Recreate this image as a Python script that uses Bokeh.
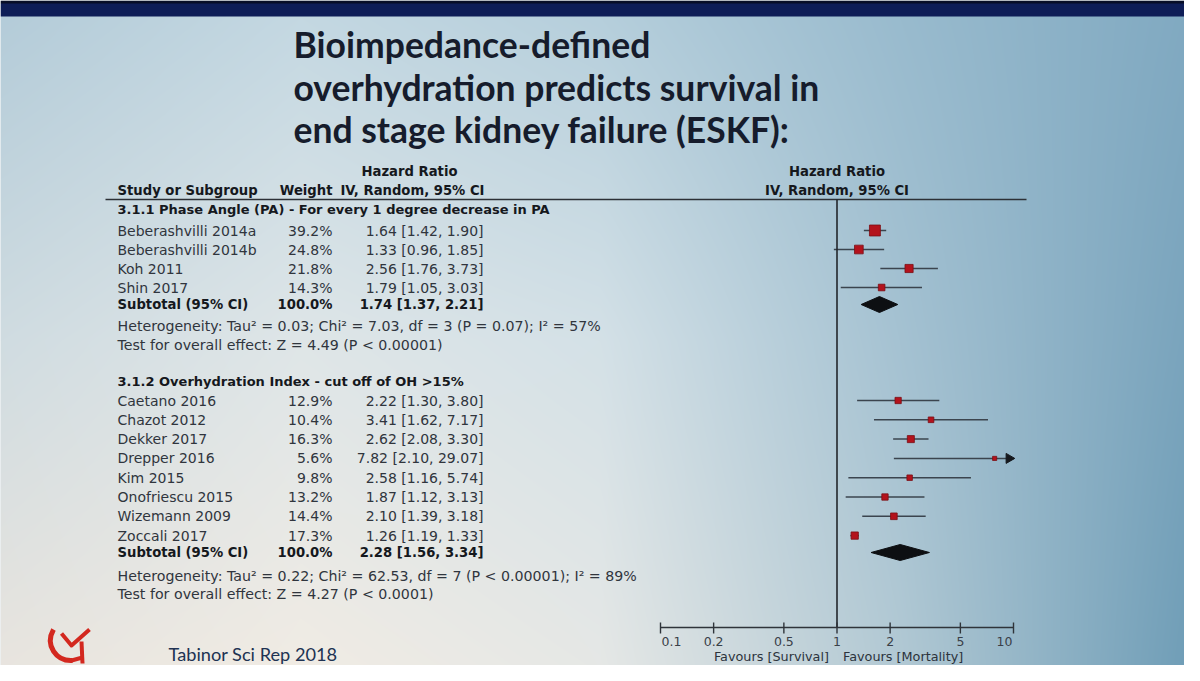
import numpy as np
from bokeh.plotting import figure
from bokeh.models import Range1d, LogScale
from bokeh.core.properties import value
from bokeh.embed import file_html
from bokeh.resources import INLINE

# ---------------- data ----------------
title_lines = ["Bioimpedance-defined",
               "overhydration predicts survival in",
               "end stage kidney failure (ESKF):"]

col_headers = ["Study or Subgroup", "Weight", "IV, Random, 95% CI"]
effect_header = "Hazard Ratio"

group1_title = "3.1.1 Phase Angle (PA) - For every 1 degree decrease in PA"
studies1 = ["Beberashvilli 2014a", "Beberashvilli 2014b", "Koh 2011", "Shin 2017"]
weights1 = [39.2, 24.8, 21.8, 14.3]
hr1 = [1.64, 1.33, 2.56, 1.79]
lo1 = [1.42, 0.96, 1.76, 1.05]
hi1 = [1.90, 1.85, 3.73, 3.03]
subtotal1 = [1.74, 1.37, 2.21]
het1 = "Heterogeneity: Tau\u00b2 = 0.03; Chi\u00b2 = 7.03, df = 3 (P = 0.07); I\u00b2 = 57%"
test1 = "Test for overall effect: Z = 4.49 (P < 0.00001)"

group2_title = "3.1.2 Overhydration Index - cut off of OH >15%"
studies2 = ["Caetano 2016", "Chazot 2012", "Dekker 2017", "Drepper 2016",
            "Kim 2015", "Onofriescu 2015", "Wizemann 2009", "Zoccali 2017"]
weights2 = [12.9, 10.4, 16.3, 5.6, 9.8, 13.2, 14.4, 17.3]
hr2 = [2.22, 3.41, 2.62, 7.82, 2.58, 1.87, 2.10, 1.26]
lo2 = [1.30, 1.62, 2.08, 2.10, 1.16, 1.12, 1.39, 1.19]
hi2 = [3.80, 7.17, 3.30, 29.07, 5.74, 3.13, 3.18, 1.33]
subtotal2 = [2.28, 1.56, 3.34]
het2 = "Heterogeneity: Tau\u00b2 = 0.22; Chi\u00b2 = 62.53, df = 7 (P < 0.00001); I\u00b2 = 89%"
test2 = "Test for overall effect: Z = 4.27 (P < 0.0001)"

subtotal_label = "Subtotal (95% CI)"
subtotal_weight = "100.0%"

axis_ticks = [0.1, 0.2, 0.5, 1, 2, 5, 10]
axis_labels = ["0.1", "0.2", "0.5", "1", "2", "5", "10"]
favours_left = "Favours [Survival]"
favours_right = "Favours [Mortality]"
source_note = "Tabinor Sci Rep 2018"

# ---------------- layout helpers (screen pixel coordinates) ----------------
W, H = 1184, 665
X0, X1, Y0, Y1 = 0, W, 0, H


def Y(yi):
    return H - yi


HR_MIN, HR_MAX = 0.1, 10.0
PX_MIN, PX_MAX = 660.0, 1013.0
decade = (PX_MAX - PX_MIN) / 2.0
log_lo = np.log10(HR_MIN) - (PX_MIN - X0) / decade
log_hi = np.log10(HR_MAX) + (X1 - PX_MAX) / decade

p = figure(width=W, height=H, x_range=Range1d(X0, X1), y_range=Range1d(0, H),
           output_backend="svg", toolbar_location=None, min_border=0)
p.extra_x_ranges = {"hr": Range1d(10 ** log_lo, 10 ** log_hi)}
p.extra_x_scales = {"hr": LogScale()}
p.xaxis.visible = False
p.yaxis.visible = False
p.xgrid.visible = False
p.ygrid.visible = False
p.outline_line_color = None
p.border_fill_color = "#dfe7eb"
p.background_fill_color = "#dfe7eb"

# ---------------- background (photo of projected slide) ----------------
xs = np.linspace(X0, X1, W)
ys = np.linspace(Y0, Y1, H)
cx = [0, 300, 600, 900, 1200]
cy = [16, 340, 673]
hexrows = [["#b4ccd9", "#c4d8e2", "#b6cfdc", "#99bbce", "#80a9c1"],
           ["#d0dce1", "#dfe6e8", "#d4e1e7", "#a5c2d2", "#78a3bc"],
           ["#e9e5df", "#f1ece4", "#e6e8e6", "#b2c9d4", "#6d9cb6"]]
C = np.array([[[int(h[i:i + 2], 16) for i in (1, 3, 5)] for h in row] for row in hexrows], dtype=float)
rowsX = np.stack([np.stack([np.interp(xs, cx, C[r, :, c]) for c in range(3)], -1) for r in range(len(cy))])
cyA = np.array(cy, dtype=float)
idx = np.clip(np.searchsorted(cyA, ys) - 1, 0, len(cy) - 2)
t = np.clip((ys - cyA[idx]) / (cyA[idx + 1] - cyA[idx]), 0, 1)
img = rowsX[idx] * (1 - t)[:, None, None] + rowsX[idx + 1] * t[:, None, None]
img[ys < 16] = np.array([14, 29, 87], dtype=float)
img[ys < 3] = np.array([8, 14, 40], dtype=float)
rgba = np.empty((H, W), dtype=np.uint32)
view = rgba.view(dtype=np.uint8).reshape((H, W, 4))
view[..., 0] = img[..., 0].astype(np.uint8)
view[..., 1] = img[..., 1].astype(np.uint8)
view[..., 2] = img[..., 2].astype(np.uint8)
view[..., 3] = 255
p.image_rgba(image=[np.ascontiguousarray(rgba[::-1])], x=X0, y=0, dw=W, dh=H)

# ---------------- title ----------------
p.text(x=[293] * 3, y=[Y(44), Y(86.5), Y(128.5)], text=title_lines,
       text_font=value("Lato"), text_font_style="bold", text_font_size="35.5px",
       text_color="#161c2c", text_baseline="alphabetic", text_align="left")

# ---------------- table text ----------------
FONT = value("DejaVu Sans")
REG = "14px"
BLD = "13.2px"
TXT = "#30353d"
BTXT = "#15181d"
X_STUDY, X_WEIGHT, X_HR = 117, 332, 483


def txt(x, y, s, align="left", bold=False, size=None, color=None, x_range_name="default", x_offset=0):
    p.text(x=x, y=y, text=s, text_font=FONT,
           text_font_style="bold" if bold else "normal",
           text_font_size=size or (BLD if bold else REG),
           text_color=color or (BTXT if bold else TXT),
           text_align=align, text_baseline="middle",
           x_range_name=x_range_name, x_offset=x_offset)


# headers
txt([409], [Y(171)], [effect_header], align="center", bold=True)
txt([X_STUDY], [Y(190)], [col_headers[0]], bold=True)
txt([X_WEIGHT], [Y(190)], [col_headers[1]], align="right", bold=True)
txt([X_HR + 1], [Y(190)], [col_headers[2]], align="right", bold=True)
txt([1], [Y(171)], [effect_header], align="center", bold=True, x_range_name="hr")
txt([1], [Y(190)], [col_headers[2]], align="center", bold=True, x_range_name="hr")
p.segment(x0=[105], y0=[Y(199)], x1=[1026], y1=[Y(199)], line_color="#2c3036", line_width=1.6)


def fmt_ci(est, lo, hi):
    return f"{est:.2f} [{lo:.2f}, {hi:.2f}]"


def draw_group(title, title_y, studies, weights, hr, lo, hi, sub, het, test, row_y0, step, sub_y, het_y, test_y):
    n = len(studies)
    ry = [row_y0 + i * step for i in range(n)]
    txt([X_STUDY], [Y(title_y)], [title], bold=True, size="13px")
    txt([X_STUDY] * n, [Y(v) for v in ry], studies)
    txt([X_WEIGHT] * n, [Y(v) for v in ry], [f"{w:.1f}%" for w in weights], align="right")
    txt([X_HR] * n, [Y(v) for v in ry], [fmt_ci(e, a, b) for e, a, b in zip(hr, lo, hi)], align="right")
    txt([X_STUDY], [Y(sub_y)], [subtotal_label], bold=True)
    txt([X_WEIGHT], [Y(sub_y)], [subtotal_weight], align="right", bold=True)
    txt([X_HR], [Y(sub_y)], [fmt_ci(*sub)], align="right", bold=True)
    txt([X_STUDY], [Y(het_y)], [het], size="14.2px")
    txt([X_STUDY], [Y(test_y)], [test], size="14.2px")

    # forest marks
    hi_c = [min(b, HR_MAX) for b in hi]
    p.segment(x0=lo, y0=[Y(v) for v in ry], x1=hi_c, y1=[Y(v) for v in ry],
              x_range_name="hr", line_color="#3b444e", line_width=1.5)
    clipped = [i for i, b in enumerate(hi) if b > HR_MAX]
    if clipped:
        p.scatter(x=[HR_MAX * 10 ** (-4.5 / decade)] * len(clipped), y=[Y(ry[i]) for i in clipped],
                  marker="triangle", angle=-np.pi / 2, size=10, fill_color="#15181d",
                  line_color="#15181d", x_range_name="hr")
    p.scatter(x=hr, y=[Y(v) for v in ry], marker="square",
              size=[1.75 * np.sqrt(w) for w in weights],
              fill_color="#b3121c", line_color="#7a0e14", line_width=0.8, x_range_name="hr")
    est, a, b = sub
    yc = Y(sub_y)
    p.patch(x=[a, est, b, est], y=[yc, yc + 8, yc, yc - 8], x_range_name="hr",
            fill_color="#0d0f12", line_color="#0d0f12")


draw_group(group1_title, 209, studies1, weights1, hr1, lo1, hi1, subtotal1, het1, test1,
           230, 19.0, 304, 325, 344)
draw_group(group2_title, 381, studies2, weights2, hr2, lo2, hi2, subtotal2, het2, test2,
           400, 19.3, 552, 575, 593)

# ---------------- reference line and axis ----------------
AX_Y = 627
p.segment(x0=[1], y0=[Y(199)], x1=[1], y1=[Y(AX_Y)], x_range_name="hr",
          line_color="#22262b", line_width=1.6)
p.segment(x0=[axis_ticks[0]], y0=[Y(AX_Y)], x1=[axis_ticks[-1]], y1=[Y(AX_Y)], x_range_name="hr",
          line_color="#2f343a", line_width=1.5)
p.segment(x0=axis_ticks, y0=[Y(AX_Y - 5)] * len(axis_ticks), x1=axis_ticks,
          y1=[Y(AX_Y + 6)] * len(axis_ticks), x_range_name="hr", line_color="#2f343a", line_width=1.4)
TICK_Y = Y(641)
txt([axis_ticks[0]], [TICK_Y], [axis_labels[0]], align="left", size="12.5px", color="#3a4048",
    x_range_name="hr", x_offset=1)
txt(axis_ticks[1:-1], [TICK_Y] * (len(axis_ticks) - 2), axis_labels[1:-1], align="center",
    size="12.5px", color="#3a4048", x_range_name="hr")
txt([axis_ticks[-1]], [TICK_Y], [axis_labels[-1]], align="right", size="12.5px", color="#3a4048",
    x_range_name="hr", x_offset=-1)
txt([1], [Y(656)], [favours_left], align="right", size="12.8px", color="#2c333c",
    x_range_name="hr", x_offset=-8)
txt([1], [Y(656)], [favours_right], align="left", size="12.8px", color="#2c333c",
    x_range_name="hr", x_offset=6)

# ---------------- footer ----------------
p.text(x=[168], y=[Y(653)], text=[source_note], text_font=value("Lato"), text_font_size="18.2px",
       text_color="#203252", text_baseline="middle", text_align="left")
# logo (decorative red ribbon)
RED = "#d3281f"
p.bezier(x0=[53], y0=[Y(629)], x1=[72], y1=[Y(660)], cx0=[44], cy0=[Y(645)], cx1=[56], cy1=[Y(661)],
         line_color=RED, line_width=5)
p.multi_line(xs=[[61, 71, 89]], ys=[[Y(633), Y(645), Y(629)]], line_color=RED, line_width=4,
             line_join="round")
p.segment(x0=[81], y0=[Y(641)], x1=[82], y1=[Y(663)], line_color=RED, line_width=4)
p.segment(x0=[71], y0=[Y(660)], x1=[82], y1=[Y(657)], line_color=RED, line_width=4)

open("out.html", "w").write(file_html(p, INLINE))
